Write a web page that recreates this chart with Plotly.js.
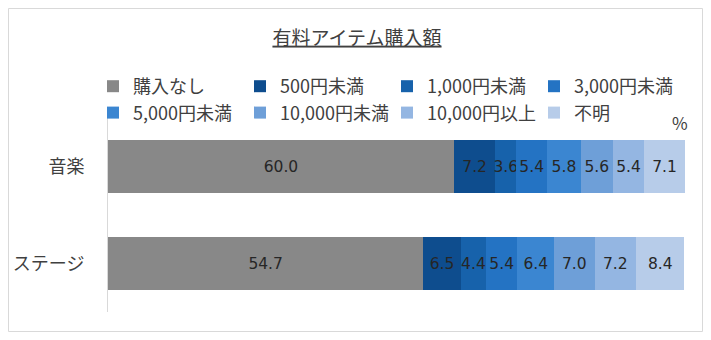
<!DOCTYPE html>
<html>
<head>
<meta charset="utf-8">
<script src="https://cdn.plot.ly/plotly-3.0.1.min.js"></script>
<style>html,body{margin:0;padding:0;background:#fff;}#chart{width:711px;height:340px;}</style>
</head>
<body>
<div id="chart"></div>
<script>
const categories = ["音楽", "ステージ"];
const seriesNames = ["購入なし", "500円未満", "1,000円未満", "3,000円未満", "5,000円未満", "10,000円未満", "10,000円以上", "不明"];
const music = [60.0, 7.2, 3.6, 5.4, 5.8, 5.6, 5.4, 7.1];
const stage = [54.7, 6.5, 4.4, 5.4, 6.4, 7.0, 7.2, 8.4];
const colors = ["#888888", "#0e4d8e", "#1762ab", "#2473c3", "#3b86d1", "#6e9fd8", "#94b6e2", "#b7cce9"];
const titleText = "有料アイテム購入額";
const unitLabel = "%";

const FONT = "'Noto Sans CJK JP', 'Noto Sans', sans-serif";
const NUMFONT = "'DejaVu Sans', 'Noto Sans', sans-serif";
const W = 711, H = 340;
const M = {l: 108, r: 26, t: 118, b: 28};
const pw = W - M.l - M.r, ph = H - M.t - M.b;
const px2x = p => (p - M.l) / pw;
const py2y = p => (H - M.b - p) / ph;

const traces = seriesNames.map((name, i) => ({
  type: "bar",
  orientation: "h",
  name: name,
  y: categories,
  x: [music[i], stage[i]],
  marker: {color: colors[i], line: {width: 0}},
  text: [music[i], stage[i]].map(v => v.toFixed(1)),
  textposition: "inside",
  insidetextanchor: "middle",
  textangle: 0,
  constraintext: "none",
  textfont: {family: NUMFONT, size: 15.5, color: "#262626"},
  hoverinfo: "skip"
}));

const layout = {
  width: W, height: H,
  margin: M,
  paper_bgcolor: "#fff",
  plot_bgcolor: "#fff",
  barmode: "stack",
  bargap: 0.46,
  font: {family: FONT, color: "#404040"},
  title: {
    text: titleText,
    font: {family: FONT, size: 19, color: "#404040", lineposition: "under"},
    xref: "container", yref: "container",
    x: 357 / W, y: 1 - 38 / H, xanchor: "center", yanchor: "middle"
  },
  xaxis: {range: [0, 100.1], visible: false, fixedrange: true},
  yaxis: {
    autorange: "reversed",
    showline: true, linecolor: "#d9d9d9", linewidth: 1,
    showgrid: false, zeroline: false,
    ticks: "", ticklabelstandoff: 19,
    tickfont: {family: FONT, size: 18, color: "#404040"}
  },
  showlegend: true,
  legend: {
    orientation: "h",
    traceorder: "normal",
    x: px2x(93), y: py2y(68), xanchor: "left", yanchor: "top",
    entrywidth: 102, entrywidthmode: "pixels",
    tracegroupgap: 0,
    font: {family: FONT, size: 18, color: "#404040"},
    bgcolor: "rgba(0,0,0,0)",
    itemclick: false
  },
  annotations: [{
    text: unitLabel, xref: "paper", yref: "paper",
    x: px2x(680), y: py2y(122), xanchor: "center", yanchor: "middle",
    showarrow: false, font: {family: FONT, size: 17, color: "#404040"}
  }],
  shapes: [{
    type: "rect", xref: "paper", yref: "paper",
    x0: px2x(8.5), x1: px2x(702.5), y0: py2y(331.5), y1: py2y(8.5),
    line: {color: "#d9d9d9", width: 1}, fillcolor: "rgba(0,0,0,0)", layer: "below"
  }]
};

Plotly.newPlot("chart", traces, layout, {displayModeBar: false, staticPlot: true});
</script>
</body>
</html>
